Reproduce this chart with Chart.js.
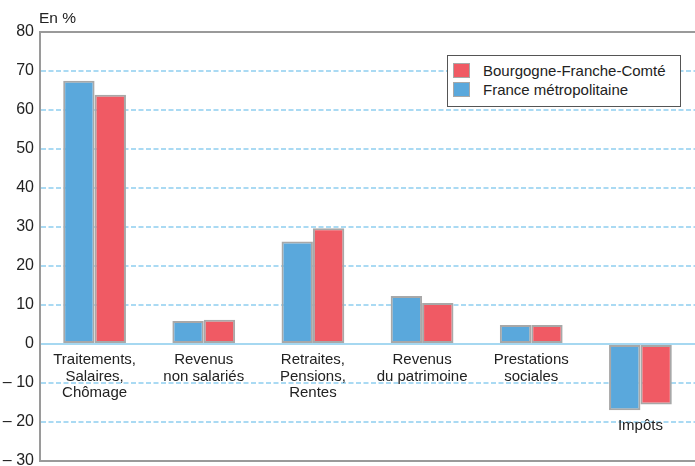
<!DOCTYPE html>
<html lang="fr">
<head>
    <meta charset="UTF-8">
    <title>Revenus - Bourgogne-Franche-Comté</title>
    <script src="https://cdn.jsdelivr.net/npm/chart.js"></script>
    <style>
        body { margin: 0; background: #fff; font-family: "Liberation Sans", Arial, sans-serif; color: #222; }
        .master { position: relative; width: 695px; height: 466px; }
        #unit { position: absolute; left: 39px; top: 9px; font-size: 15.5px; }
        #legend { position: absolute; left: 447px; top: 55px; width: 232px; height: 50px;
                  border: 1px solid #555; background: #fff; font-size: 15px; }
        #legend div { position: absolute; left: 35px; }
        #legend span { position: absolute; left: -30px; top: 1px; width: 15px; height: 13px; border: 1px solid #a8a8a8; }
    </style>
</head>
<body>
    <div class="master">
        <canvas id="myChart"></canvas>
        <div id="unit">En %</div>
        <div id="legend"></div>
    </div>

    <script>
        // categories (multi-line labels), Impôts sits below its negative bars
        const categories = [
            ['Traitements,', 'Salaires,', 'Chômage'],
            ['Revenus', 'non salariés'],
            ['Retraites,', 'Pensions,', 'Rentes'],
            ['Revenus', 'du patrimoine'],
            ['Prestations', 'sociales'],
            ['', '', '', '', 'Impôts']
        ];
        const franceValues = [67.5, 5.9, 26.3, 12.3, 4.9, -17.0];
        const bfcValues = [63.9, 6.2, 29.7, 10.5, 4.9, -15.5];

        const blue = '#5aa8dc';
        const red = '#f05a64';

        // legend as html, Bourgogne first like the original
        const legendItems = [['Bourgogne-Franche-Comté', red], ['France métropolitaine', blue]];
        document.getElementById('legend').innerHTML = legendItems.map((it, i) =>
            `<div style="top:${6 + i * 19}px"><span style="background:${it[1]}"></span>${it[0]}</div>`
        ).join('');

        // frame lines on top and bottom of the plot
        const framePlugin = {
            id: 'frame',
            afterDraw(chart) {
                const a = chart.chartArea, ctx = chart.ctx;
                ctx.save();
                ctx.strokeStyle = '#9a9a9a';
                ctx.lineWidth = 2;
                ctx.beginPath();
                ctx.moveTo(a.left, a.top); ctx.lineTo(a.right, a.top);
                ctx.moveTo(a.left, a.bottom); ctx.lineTo(a.right, a.bottom);
                ctx.stroke();
                ctx.restore();
            }
        };

        const ctx = document.getElementById('myChart').getContext('2d');
        Chart.defaults.font.family = '"Liberation Sans", Arial, sans-serif';
        Chart.defaults.color = '#222';

        const myChart = new Chart(ctx, {
            type: 'bar',
            data: {
                labels: categories,
                datasets: [
                    {
                        label: 'France métropolitaine',
                        data: franceValues,
                        backgroundColor: blue,
                        borderColor: '#a8a8a8',
                        borderWidth: 2,
                        borderSkipped: false
                    },
                    {
                        label: 'Bourgogne-Franche-Comté',
                        data: bfcValues,
                        backgroundColor: red,
                        borderColor: '#a8a8a8',
                        borderWidth: 2,
                        borderSkipped: false
                    }
                ]
            },
            options: {
                responsive: true,
                maintainAspectRatio: false,
                animation: false,
                categoryPercentage: 0.575,
                barPercentage: 1,
                layout: { padding: { top: 32, bottom: 5, left: 0, right: 0 } },
                plugins: {
                    legend: { display: false },
                    tooltip: { enabled: false }
                },
                scales: {
                    x: {
                        position: { y: 0 },
                        grid: { display: false, drawTicks: false },
                        border: { color: '#a6d8f1', width: 2 },
                        ticks: {
                            padding: 8,
                            maxRotation: 0,
                            autoSkip: false,
                            font: { size: 15, lineHeight: 1.1 },
                            color: '#222'
                        }
                    },
                    y: {
                        min: -30,
                        max: 80,
                        afterFit(scale) {
                            scale.width = 40;
                            scale.paddingTop = 0;
                            scale.paddingBottom = 0;
                        },
                        grid: {
                            color: '#aadaf3',
                            lineWidth: 2,
                            drawTicks: false
                        },
                        border: { color: '#9a9a9a', width: 2, dash: [5, 2.5] },
                        ticks: {
                            stepSize: 10,
                            padding: 6,
                            font: { size: 16 },
                            color: '#222',
                            callback: v => v < 0 ? '\u2013 ' + Math.abs(v) : v
                        }
                    }
                }
            },
            plugins: [framePlugin]
        });
    </script>
</body>
</html>
